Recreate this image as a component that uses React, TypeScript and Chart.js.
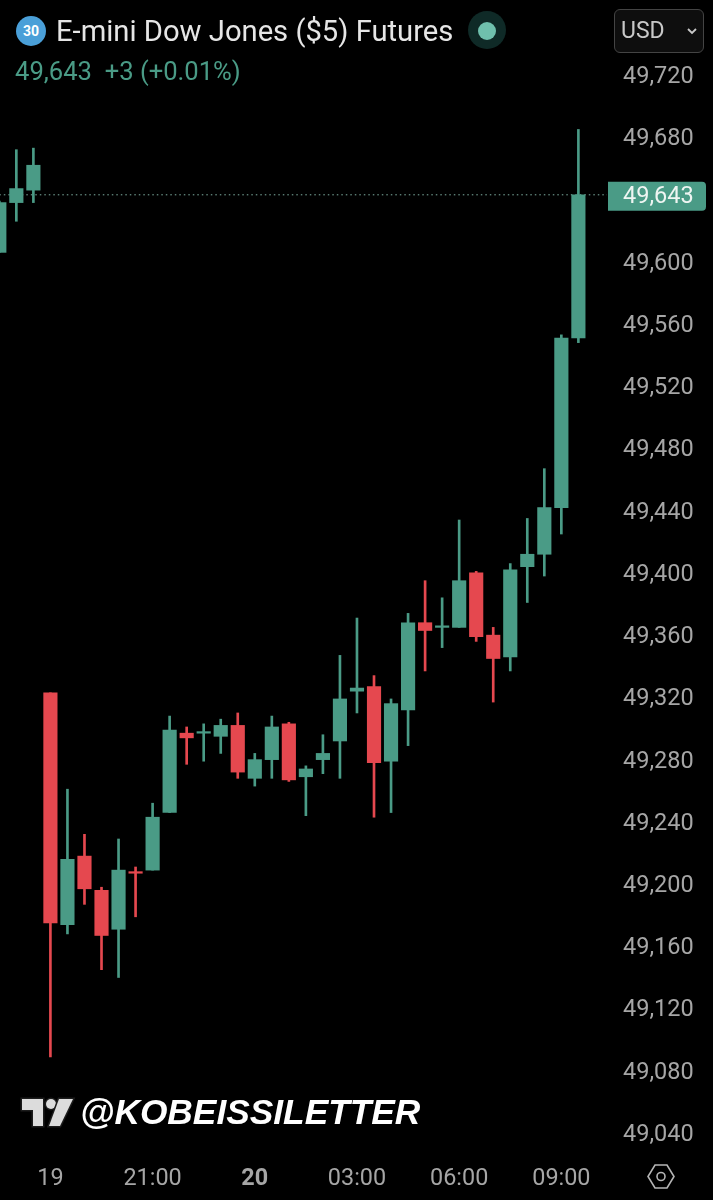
import React, { useEffect, useRef } from "react";
import { Chart, registerables } from "chart.js";

Chart.register(...registerables);

const opens = [49606, 49638, 49646, 49323, 49174, 49218, 49196, 49171, 49208, 49209, 49246, 49297, 49297, 49295, 49302, 49268, 49280, 49303, 49269, 49280, 49292, 49324, 49327, 49279, 49312, 49368, 49365, 49365, 49400, 49360, 49346, 49404, 49412, 49442, 49551];
const highs = [49639, 49672, 49673, 49323, 49261, 49232, 49198, 49229, 49211, 49252, 49308, 49301, 49303, 49306, 49310, 49284, 49308, 49304, 49276, 49296, 49347, 49371, 49334, 49319, 49374, 49395, 49384, 49434, 49401, 49365, 49406, 49435, 49467, 49553, 49685];
const lows = [49606, 49626, 49638, 49089, 49168, 49187, 49145, 49140, 49179, 49209, 49246, 49277, 49279, 49284, 49268, 49263, 49268, 49266, 49244, 49271, 49268, 49310, 49243, 49246, 49289, 49337, 49352, 49365, 49356, 49317, 49337, 49381, 49398, 49425, 49548];
const closes = [49638, 49647, 49662, 49175, 49216, 49197, 49167, 49209, 49207, 49243, 49299, 49294, 49298, 49302, 49272, 49280, 49301, 49267, 49274, 49284, 49319, 49326, 49278, 49316, 49368, 49363, 49366, 49395, 49359, 49345, 49402, 49412, 49442, 49551, 49643];

const priceTicks = [49720, 49680, 49600, 49560, 49520, 49480, 49440, 49400, 49360, 49320, 49280, 49240, 49200, 49160, 49120, 49080, 49040];
const timeTickIndex = [3, 9, 15, 21, 27, 33];
const timeTickLabels = ["19", "21:00", "20", "03:00", "06:00", "09:00"];
const lastPrice = 49643;

const UP = "#4a9b86";
const DOWN = "#e5484f";
const TICK = "#a6a6a6";
const FONT = "Roboto, 'Noto Sans', sans-serif";

const priceTag = {
  id: "priceTag",
  afterDraw(chart: any) {
    const { ctx, scales } = chart;
    const y = scales.y.getPixelForValue(lastPrice);
    ctx.save();
    ctx.fillStyle = UP;
    ctx.beginPath();
    ctx.roundRect(608, y - 13, 98, 29, [0, 4, 4, 0]);
    ctx.fill();
    ctx.fillStyle = "#eef5f2";
    ctx.font = `23.5px ${FONT}`;
    ctx.textBaseline = "middle";
    ctx.textAlign = "left";
    ctx.fillText(lastPrice.toLocaleString("en-US"), 623, y + 2);
    ctx.restore();
  },
};

export default function App() {
  const ref = useRef<HTMLCanvasElement>(null);

  useEffect(() => {
    document.body.style.margin = "0";
    document.body.style.background = "#000";
    const indices = opens.map((_, i) => i);
    const chart = new Chart(ref.current!, {
      type: "bar",
      data: {
        datasets: [
          {
            type: "line",
            data: [
              { x: 0, y: lastPrice },
              { x: 36, y: lastPrice },
            ],
            borderColor: "#7fb0a3",
            borderWidth: 1,
            borderDash: [1.5, 3],
            pointRadius: 0,
            order: 3,
          },
          {
            data: indices.map((i) => ({ x: i, y: [lows[i], highs[i]] })),
            backgroundColor: indices.map((i) => (closes[i] >= opens[i] ? UP : DOWN)),
            barThickness: 2,
            grouped: false,
            order: 2,
          },
          {
            data: indices.map((i) => ({ x: i, y: [opens[i], closes[i]] })),
            backgroundColor: indices.map((i) => (closes[i] >= opens[i] ? UP : DOWN)),
            barThickness: 13.5,
            grouped: false,
            order: 1,
          },
        ] as any,
      },
      options: {
        animation: false,
        responsive: false,
        devicePixelRatio: 1,
        layout: { padding: 0 },
        plugins: { legend: { display: false }, tooltip: { enabled: false } },
        scales: {
          x: {
            type: "linear",
            offset: false,
            min: 0.04,
            max: 35.68,
            grid: { display: false, drawTicks: false },
            border: { display: false },
            afterFit: (s: any) => {
              s.height = 40;
              s.paddingLeft = 0;
              s.paddingRight = 0;
            },
            afterBuildTicks: (s: any) => {
              s.ticks = timeTickIndex.map((value) => ({ value }));
            },
            ticks: {
              autoSkip: false,
              maxRotation: 0,
              padding: 5,
              color: TICK,
              font: (c: any) => ({
                family: FONT,
                size: 23.4,
                weight: c.tick && c.tick.label === "20" ? "bold" : "normal",
              }),
              callback: (v: any) => timeTickLabels[timeTickIndex.indexOf(v)],
            },
          },
          y: {
            position: "right",
            min: 49022.7,
            max: 49768.2,
            grid: { display: false, drawTicks: false },
            border: { display: false },
            afterFit: (s: any) => {
              s.width = 106;
              s.paddingTop = 0;
              s.paddingBottom = 0;
            },
            afterBuildTicks: (s: any) => {
              s.ticks = priceTicks.map((value) => ({ value }));
            },
            ticks: {
              autoSkip: false,
              padding: 16,
              labelOffset: 2,
              crossAlign: "near",
              color: TICK,
              font: { family: FONT, size: 23.5 },
              callback: (v: any) => Number(v).toLocaleString("en-US"),
            },
          },
        },
      } as any,
      plugins: [priceTag],
    });
    return () => chart.destroy();
  }, []);

  const abs = (o: React.CSSProperties): React.CSSProperties => ({ position: "absolute", whiteSpace: "nowrap", ...o });

  return (
    <div style={{ position: "absolute", left: 0, top: 0, width: 713, height: 1200, background: "#000", overflow: "hidden", fontFamily: FONT }}>
      <canvas ref={ref} width={713} height={1200} style={{ display: "block", position: "absolute", left: 0, top: 0 }} />
      <div style={abs({ left: 16, top: 16, width: 30, height: 30, borderRadius: 15, background: "#4a9fd8", color: "#fff", fontWeight: 700, fontSize: 14, lineHeight: "30px", textAlign: "center" })}>30</div>
      <div style={abs({ left: 56, top: 13, fontSize: 29.2, lineHeight: "36px", color: "#e6e6e6" })}>E-mini Dow Jones ($5) Futures</div>
      <div style={abs({ left: 468, top: 11, width: 38, height: 38, borderRadius: 19, background: "#0f2a27" })} />
      <div style={abs({ left: 478, top: 22, width: 18, height: 18, borderRadius: 9, background: "#6fc0ad" })} />
      <div style={abs({ left: 15, top: 56, fontSize: 25.6, lineHeight: "30px", color: UP })}>49,643&nbsp;&nbsp;+3 (+0.01%)</div>
      <div style={abs({ left: 614, top: 9, width: 88, height: 42, border: "1.5px solid #444", borderRadius: 6, background: "#0e0e0e" })} />
      <div style={abs({ left: 621, top: 16, fontSize: 23, lineHeight: "30px", color: "#c8c8c8" })}>USD</div>
      <svg style={{ position: "absolute", left: 686, top: 27 }} width="12" height="8" viewBox="0 0 12 8">
        <path d="M2 2 L6 6 L10 2" fill="none" stroke="#c8c8c8" strokeWidth="1.8" />
      </svg>
      <svg style={{ position: "absolute", left: 18, top: 1096 }} width="58" height="34" viewBox="0 0 58 34">
        <g fill="#dcdcdc" stroke="#1c1c1c" strokeWidth="3" paintOrder="stroke">
          <path d="M4 3 H25 V30 H15 V14 H4 Z" />
          <circle cx="33" cy="8" r="5" />
          <path d="M41 3 H55 L42 30 H31 Z" />
        </g>
      </svg>
      <div style={abs({ left: 80, top: 1092, fontFamily: "'Liberation Sans', Arial, sans-serif", fontStyle: "italic", fontWeight: 700, fontSize: 35.3, lineHeight: "40px", color: "#fff" })}>@KOBEISSILETTER</div>
      <svg style={{ position: "absolute", left: 646, top: 1162 }} width="30" height="30" viewBox="0 0 30 30">
        <path d="M9 3 H21 L28 14.5 L21 26 H9 L2 14.5 Z" fill="none" stroke="#b5b5b5" strokeWidth="1.6" />
        <circle cx="15" cy="14.5" r="4" fill="none" stroke="#b5b5b5" strokeWidth="1.6" />
      </svg>
    </div>
  );
}
